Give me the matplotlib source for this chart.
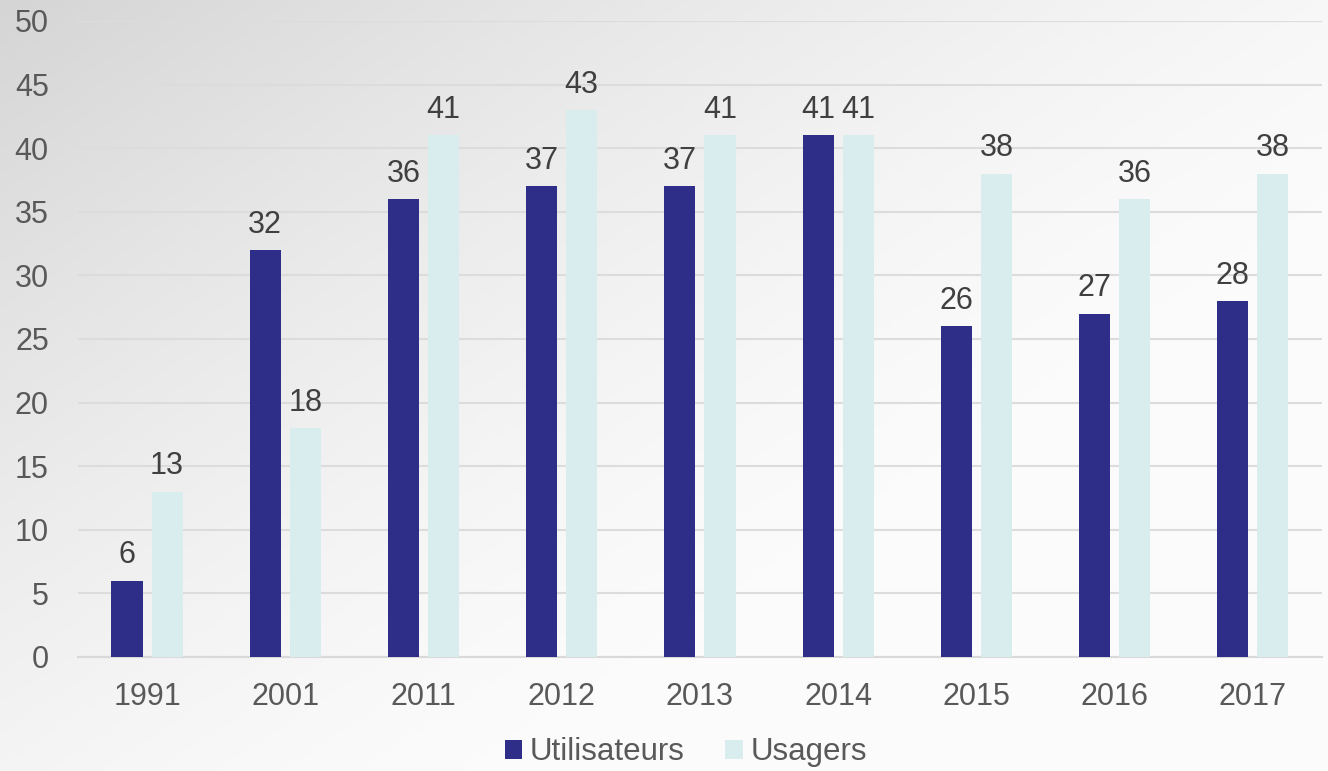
import numpy as np
import matplotlib.pyplot as plt

plt.rcParams['font.family'] = ['Liberation Sans', 'DejaVu Sans']

years = ["1991", "2001", "2011", "2012", "2013", "2014", "2015", "2016", "2017"]
utilisateurs = [6, 32, 36, 37, 37, 41, 26, 27, 28]
usagers = [13, 18, 41, 43, 41, 41, 38, 36, 38]

DARK = "#2e2d88"
LIGHT = "#d9ecee"
TXT = "#404040"
TICK = "#595959"

fig = plt.figure(figsize=(13.28, 7.71), dpi=100)

# background: grey top-left fading to white
bg = fig.add_axes([0, 0, 1, 1], zorder=-10)
yy, xx = np.mgrid[0:1:200j, 0:1:300j]
d = np.clip(1.0 - (0.8 * xx + 0.7 * yy), 0, 1)
shade = 0.985 - 0.15 * d ** 1.4
bg.imshow(np.dstack([shade, shade, shade]), extent=[0, 1, 0, 1], aspect="auto", origin="upper")
bg.axis("off")

ax = fig.add_axes([0.0587, 0.1479, 0.9367, 0.8249])
ax.patch.set_alpha(0)

x = np.arange(len(years))
w = 0.225
off = 0.145
b1 = ax.bar(x - off, utilisateurs, w, color=DARK, label="Utilisateurs", zorder=3)
b2 = ax.bar(x + off, usagers, w, color=LIGHT, label="Usagers", zorder=3)

for bars in (b1, b2):
    for r in bars:
        ax.text(r.get_x() + r.get_width() / 2, r.get_height() + 0.8, f"{int(r.get_height())}",
                ha="center", va="bottom", fontsize=22, color=TXT, zorder=4)

ax.set_xlim(-0.5, len(years) - 0.5)
ax.set_ylim(0, 50)
ax.set_yticks(range(0, 51, 5))
ax.set_xticks(x)
ax.set_xticklabels(years)
ax.tick_params(axis="both", length=0, labelsize=22, labelcolor=TICK)
ax.tick_params(axis="y", pad=21)
ax.tick_params(axis="x", pad=18)
ax.grid(axis="y", color="#dcdcdc", lw=1.5, zorder=0)
for s in ("top", "right", "left"):
    ax.spines[s].set_visible(False)
ax.spines["bottom"].set_color("#d9d9d9")
ax.spines["bottom"].set_linewidth(1.5)

fig.legend(handles=[b1, b2], loc="center", bbox_to_anchor=(0.5165, 0.024), ncol=2,
           frameon=False, fontsize=22.5, labelcolor=TICK, handlelength=0.55, handleheight=0.55,
           handletextpad=0.25, columnspacing=1.3)

fig.savefig("out.png", dpi=100)
